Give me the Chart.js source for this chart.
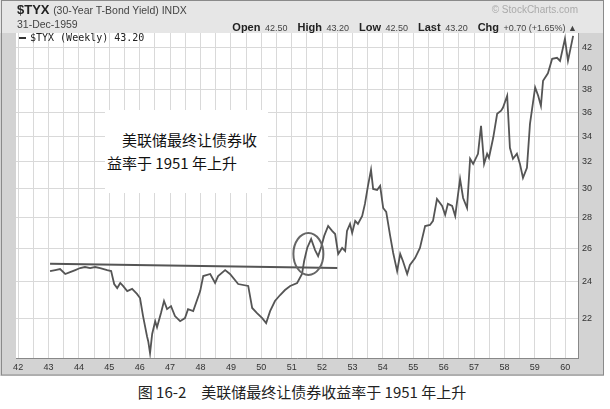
<!DOCTYPE html>
<html>
<head>
<meta charset="utf-8">
<script src="https://cdn.jsdelivr.net/npm/chart.js@4.4.1/dist/chart.umd.min.js"></script>
<style>
  body { margin: 0; background: #fff; width: 610px; height: 409px; position: relative; overflow: hidden; }
  #frame { position: absolute; left: 0; top: 0; width: 604px; height: 376px; }
  canvas { position: absolute; left: 0; top: 0; }
  .abs { position: absolute; white-space: nowrap; font-family: 'Liberation Sans', Arial, sans-serif; }
  #ohlc span { margin-left: 10px; font-size: 9px; color: #444; }
  #ohlc b { font-size: 11px; color: #222; margin-right: 2px; }
  #box { position: absolute; left: 105px; top: 110px; width: 163px; height: 83px; background: #fff;
         font: 15px 'Noto Sans CJK SC', sans-serif; line-height: 23px; color: #111; box-sizing: border-box;
         padding: 18px 0 0 2px; }
  #caption { position: absolute; top: 381px; left: 0; width: 604px; text-align: center;
             font: 15px 'Noto Sans CJK SC', sans-serif; color: #222; }
</style>
</head>
<body>
<div id="frame">
  <canvas id="grafico" width="604" height="376"></canvas>
  <div class="abs" style="left:17px;top:2px;font-weight:bold;font-size:13px;color:#222">$TYX <span style="font-weight:normal;font-size:10.5px;color:#444">(30-Year T-Bond Yield) INDX</span></div>
  <div class="abs" style="left:17px;top:18px;font-size:10.5px;color:#444">31-Dec-1959</div>
  <div class="abs" style="right:26px;top:4px;font-size:10px;color:#aaa">© StockCharts.com</div>
  <div id="ohlc" class="abs" style="right:27px;top:17px"><span><b>Open</b> 42.50</span><span><b>High</b> 43.20</span><span><b>Low</b> 42.50</span><span><b>Last</b> 43.20</span><span><b>Chg</b> +0.70 (+1.65%) ▲</span></div>
  <div class="abs" style="left:19px;top:32px;font:10px 'DejaVu Sans Mono', monospace;color:#222"><span style="display:inline-block;width:7px;height:2px;background:#333;vertical-align:middle;margin-right:4px"></span>$TYX (Weekly) 43.20</div>
  <div id="box"><div style="text-indent:15px">美联储最终让债券收</div><div>益率于 1951 年上升</div></div>
</div>
<div id="caption">图 16-2　美联储最终让债券收益率于 1951 年上升</div>
<script>
// weekly $TYX (decimal years)
const years = [
  1943.05, 1943.22, 1943.38, 1943.55, 1943.71, 1943.88, 1944.04, 1944.20, 1944.37, 1944.53,
  1944.70, 1944.93, 1945.06, 1945.16, 1945.26, 1945.36, 1945.45, 1945.59, 1945.75, 1945.91,
  1946.01, 1946.11, 1946.24, 1946.28, 1946.34, 1946.41, 1946.51, 1946.57, 1946.70, 1946.80,
  1946.90, 1947.03, 1947.16, 1947.33, 1947.49, 1947.59, 1947.76, 1947.99, 1948.09, 1948.32,
  1948.48, 1948.58, 1948.81, 1948.97, 1949.24, 1949.57, 1949.70, 1949.86, 1950.03, 1950.16,
  1950.29, 1950.45, 1950.62, 1950.78, 1950.95, 1951.18, 1951.34, 1951.41, 1951.51, 1951.64,
  1951.77, 1951.87, 1951.97, 1952.07, 1952.20, 1952.33, 1952.43, 1952.53, 1952.66, 1952.76,
  1952.82, 1952.92, 1952.99, 1953.09, 1953.18, 1953.32, 1953.41, 1953.51, 1953.61, 1953.68,
  1953.81, 1953.91, 1954.01, 1954.11, 1954.24, 1954.34, 1954.47, 1954.57, 1954.66, 1954.80,
  1954.89, 1955.06, 1955.22, 1955.39, 1955.55, 1955.65, 1955.78, 1955.95, 1956.05, 1956.14,
  1956.28, 1956.38, 1956.54, 1956.64, 1956.77, 1956.87, 1956.97, 1957.13, 1957.23, 1957.33,
  1957.43, 1957.49, 1957.63, 1957.76, 1957.89, 1957.95, 1958.09, 1958.18, 1958.28, 1958.41,
  1958.51, 1958.61, 1958.74, 1958.84, 1959.01, 1959.11, 1959.20, 1959.27, 1959.43, 1959.57,
  1959.73, 1959.83, 1959.99, 1960.09, 1960.26
];
const yields = [
  24.62, 24.68, 24.74, 24.45, 24.56, 24.68, 24.80, 24.86, 24.80, 24.86,
  24.80, 24.68, 24.62, 23.87, 23.64, 23.93, 23.76, 23.47, 23.59, 23.31,
  23.08, 22.11, 21.07, 20.82, 20.23, 21.18, 21.84, 21.53, 22.27, 22.92,
  22.48, 22.64, 22.11, 21.84, 22.00, 22.48, 22.37, 23.47, 24.33, 24.45,
  23.93, 24.33, 24.68, 24.45, 23.87, 23.76, 22.54, 22.27, 22.00, 21.74,
  22.37, 22.92, 23.25, 23.53, 23.76, 23.93, 24.45, 25.22, 26.02, 26.58,
  25.89, 25.52, 26.08, 26.78, 27.42, 27.10, 26.90, 25.65, 26.02, 25.83,
  27.10, 27.56, 26.97, 27.76, 27.56, 28.09, 28.91, 30.18, 31.36, 29.96,
  29.89, 30.18, 28.63, 28.36, 26.78, 25.71, 24.62, 25.65, 25.22, 24.45,
  24.98, 25.40, 26.02, 27.42, 27.49, 27.76, 29.25, 28.77, 28.16, 28.91,
  28.77, 28.09, 30.69, 29.32, 28.63, 32.20, 31.81, 32.59, 34.85, 31.81,
  32.59, 32.28, 33.86, 35.86, 36.12, 36.38, 37.44, 33.06, 32.20, 32.59,
  31.81, 30.76, 31.51, 35.01, 38.20, 37.44, 36.55, 38.80, 39.50, 40.90,
  41.00, 40.70, 42.90, 40.70, 43.20
];

// hand-drawn resistance line and circle
const trendYears = [1943.05, 1952.5];
const trendValues = [25.05, 24.8];
const circleYear = 1951.55;
const circleValue = 25.65;

const yTicks = [22, 24, 26, 28, 30, 32, 34, 36, 38, 40, 42];
const xTicks = [];
for (let y = 1942; y <= 1960; y += 0.5) xTicks.push(y);

const fondo = {
  id: 'fondo',
  beforeDraw(chart) {
    const { ctx, chartArea: a, width, height } = chart;
    ctx.save();
    ctx.fillStyle = '#d3d3d3';
    ctx.fillRect(0, 0, width, height);
    ctx.fillStyle = '#e6e6e6';
    ctx.fillRect(0, 0, width, a.top);
    ctx.fillStyle = '#fff';
    ctx.fillRect(a.left, a.top, a.right - a.left, a.bottom - a.top);
    ctx.strokeStyle = '#8a8a8a';
    ctx.lineWidth = 1;
    ctx.strokeRect(1.5, 0.5, width - 2, height - 1.5);
    ctx.restore();
  },
  afterDatasetsDraw(chart) {
    const { ctx, scales } = chart;
    const cx = scales.x.getPixelForValue(circleYear);
    const cy = scales.y.getPixelForValue(circleValue);
    ctx.save();
    ctx.strokeStyle = '#666';
    ctx.lineWidth = 2;
    ctx.beginPath();
    ctx.ellipse(cx, cy, 15, 21, 0, 0, Math.PI * 2);
    ctx.stroke();
    ctx.restore();
  }
};

new Chart(document.getElementById('grafico'), {
  type: 'line',
  data: {
    datasets: [{
      data: years.map((x, i) => ({ x, y: yields[i] })),
      borderColor: '#555',
      borderWidth: 1.8,
      pointRadius: 0,
      tension: 0
    }, {
      data: trendYears.map((x, i) => ({ x, y: trendValues[i] })),
      borderColor: '#555',
      borderWidth: 2,
      pointRadius: 0
    }]
  },
  options: {
    responsive: false,
    animation: false,
    layout: { padding: { left: 16, top: 33, right: 0, bottom: 0 } },
    plugins: { legend: { display: false }, tooltip: { enabled: false } },
    scales: {
      x: {
        type: 'linear',
        min: 1941.93,
        max: 1960.42,
        afterBuildTicks: s => { s.ticks = xTicks.map(v => ({ value: v })); },
        afterFit: s => { s.height = 18; },
        grid: { color: '#d9d9d9', drawTicks: false },
        border: { color: '#888' },
        ticks: {
          autoSkip: false, maxRotation: 0, padding: 4,
          color: '#333', font: { family: 'Liberation Sans', size: 9 },
          callback: v => Number.isInteger(v) ? String(v % 100) : ''
        }
      },
      y: {
        type: 'logarithmic',
        position: 'right',
        min: 20,
        max: 43.5,
        afterBuildTicks: s => { s.ticks = yTicks.map(v => ({ value: v })); },
        afterFit: s => { s.width = 26; },
        grid: { color: '#d9d9d9', drawTicks: false },
        border: { color: '#888' },
        ticks: {
          padding: 4, color: '#333', font: { family: 'Liberation Sans', size: 9 },
          callback: v => String(v)
        }
      }
    }
  },
  plugins: [fondo]
});
</script>
</body>
</html>
